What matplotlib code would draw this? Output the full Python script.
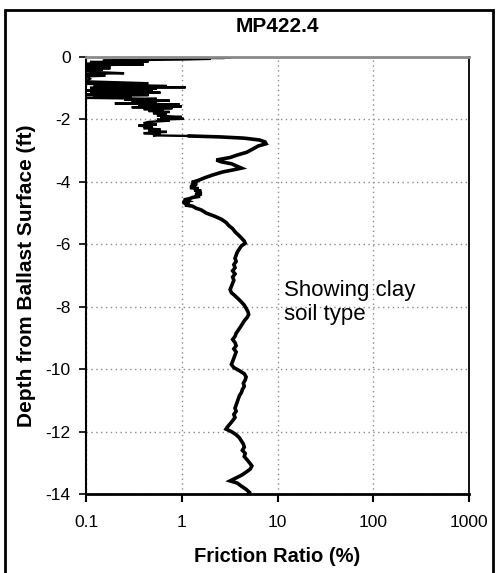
import matplotlib
matplotlib.use("Agg")
import matplotlib.pyplot as plt
from matplotlib.patches import Rectangle

plt.rcParams['font.family'] = ['Liberation Sans', 'DejaVu Sans']

title = "MP422.4"
xlabel = "Friction Ratio (%)"
ylabel = "Depth from Ballast Surface (ft)"
note = "Showing clay\nsoil type"

x_ticks = [0.1, 1, 10, 100, 1000]
x_ticklabels = ["0.1", "1", "10", "100", "1000"]
y_ticks = [0, -2, -4, -6, -8, -10, -12, -14]
y_ticklabels = ["0", "-2", "-4", "-6", "-8", "-10", "-12", "-14"]

depth = [0.00, 0.01, 0.02, 0.03, 0.04, 0.06, 0.08, 0.10, 0.12, 0.14, 0.16, 0.18, 0.20, 0.22,
         0.24, 0.26, 0.28, 0.30, 0.32, 0.34, 0.36, 0.38, 0.40, 0.44, 0.48, 0.52, 0.54, 0.60,
         0.62, 0.70, 0.78, 0.84, 0.86, 0.90, 0.93, 0.95, 0.97, 0.99, 1.02, 1.04, 1.06, 1.08,
         1.10, 1.12, 1.14, 1.16, 1.18, 1.20, 1.22, 1.25, 1.28, 1.31, 1.34, 1.37, 1.40, 1.43,
         1.46, 1.49, 1.52, 1.55, 1.58, 1.61, 1.64, 1.67, 1.70, 1.73, 1.76, 1.80, 1.84, 1.88,
         1.92, 1.95, 1.98, 2.01, 2.04, 2.08, 2.12, 2.16, 2.20, 2.24, 2.28, 2.32, 2.36, 2.40,
         2.44, 2.48, 2.51, 2.53, 2.56, 2.60, 2.66, 2.72, 2.78, 2.85, 2.95, 3.05, 3.14, 3.22,
         3.30, 3.36, 3.42, 3.50, 3.56, 3.62, 3.68, 3.78, 3.88, 3.95, 4.02, 4.06, 4.10, 4.14,
         4.18, 4.22, 4.26, 4.30, 4.34, 4.38, 4.42, 4.46, 4.50, 4.54, 4.58, 4.62, 4.66, 4.70,
         4.74, 4.78, 4.84, 4.90, 5.00, 5.10, 5.20, 5.30, 5.40, 5.50,
         5.60, 5.70, 5.80, 5.90, 5.97, 6.05, 6.15, 6.25, 6.35, 6.45, 6.55, 6.65, 6.75, 6.85,
         6.95, 7.05, 7.15, 7.25, 7.35, 7.45, 7.55, 7.65, 7.75, 7.85, 7.95, 8.05, 8.15, 8.25,
         8.35, 8.45, 8.55, 8.65, 8.75, 8.85, 8.95, 9.05, 9.15, 9.25, 9.35, 9.45, 9.55, 9.65,
         9.75, 9.85, 9.95, 10.05, 10.15, 10.25, 10.35, 10.45, 10.55, 10.65, 10.75, 10.85,
         10.95, 11.05, 11.15, 11.25, 11.35, 11.45, 11.55, 11.65, 11.75, 11.85, 11.92, 12.00,
         12.10, 12.20, 12.30, 12.40, 12.50, 12.60, 12.70, 12.80, 12.90, 13.00, 13.10, 13.20,
         13.30, 13.40, 13.50, 13.58, 13.65, 13.75, 13.85, 13.95, 14.00]

friction_ratio = [1.0, 3.3, 1.2, 2.8, 1.0, 2.0, 1.05, 0.30, 0.15, 0.45, 0.11, 0.25, 0.35, 0.10,
                  0.40, 0.12, 0.18, 0.10, 0.17, 0.10, 0.18, 0.10, 0.15, 0.10, 0.12, 0.25, 0.10, 0.16,
                  0.10, 0.11, 0.10, 0.45, 0.10, 0.30, 0.70, 0.12, 1.1, 0.11, 0.55, 0.20, 0.50, 0.10,
                  0.40, 0.18, 0.60, 0.11, 0.35, 0.10, 0.45, 0.12, 0.30, 0.10, 0.55, 0.25, 0.75, 0.30,
                  0.55, 0.20, 0.95, 0.35, 1.0, 0.30, 0.80, 0.40, 0.65, 0.45, 0.75, 0.50, 0.70, 0.55,
                  1.0, 0.60, 1.05, 0.55, 0.75, 0.45, 0.40, 0.55, 0.35, 0.50, 0.40, 0.60, 0.45, 0.70,
                  0.40, 0.60, 0.50, 1.2, 2.5, 4.5, 6.5, 7.4, 7.6, 6.3, 5.5, 4.8, 3.8, 3.2,
                  2.3, 2.6, 3.3, 3.8, 4.2, 3.4, 2.7, 2.1, 1.7, 1.5, 1.27, 1.45, 1.25, 1.4,
                  1.22, 1.5, 1.35, 1.6, 1.4, 1.62, 1.38, 1.55, 1.3, 1.2, 1.05, 1.15, 1.02, 1.2,
                  1.08, 1.3, 1.4, 1.6, 1.8, 2.2, 2.6, 2.9, 3.1, 3.4,
                  3.6, 3.9, 4.2, 4.5, 4.6, 4.2, 4.0, 3.8, 3.7, 3.6, 3.7, 3.5, 3.6, 3.4,
                  3.6, 3.4, 3.5, 3.4, 3.3, 3.2, 3.3, 3.6, 3.9, 4.2, 4.5, 4.7, 4.9, 5.0,
                  4.8, 4.5, 4.3, 4.1, 3.9, 3.7, 3.6, 3.4, 3.6, 3.7, 3.5, 3.7, 3.6, 3.5,
                  3.4, 3.3, 3.5, 4.0, 4.5, 4.7, 4.6, 4.4, 4.5, 4.3, 4.2, 4.0,
                  3.9, 3.8, 3.7, 3.6, 3.7, 3.5, 3.6, 3.4, 3.2, 3.0, 2.9, 3.3,
                  3.7, 4.0, 4.2, 4.4, 4.5, 4.3, 4.6, 4.5, 4.8, 5.1, 5.4, 5.2,
                  4.7, 4.2, 3.6, 3.2, 3.8, 4.2, 4.7, 5.1, 5.0]

W, H = 498, 573
fig = plt.figure(figsize=(W / 100, H / 100), dpi=100)
ax = fig.add_axes([86 / W, 1 - 494 / H, (469 - 86) / W, (494 - 57) / H])

neg_depth = [-d for d in depth]
# noisy near-surface part drawn thinner, smoother clay part drawn heavier
split = next(i for i, d in enumerate(depth) if d >= 2.53)
ax.plot(friction_ratio[:split + 1], neg_depth[:split + 1], color='black', lw=1.7,
        solid_joinstyle='miter')
ax.plot(friction_ratio[split:], neg_depth[split:], color='black', lw=2.6,
        solid_joinstyle='miter')

ax.set_xscale('log')
ax.set_xlim(0.1, 1000)
ax.set_ylim(-14, 0)
ax.set_xticks(x_ticks)
ax.set_xticklabels(x_ticklabels)
ax.set_yticks(y_ticks)
ax.set_yticklabels(y_ticklabels)
ax.minorticks_off()
ax.tick_params(axis='x', direction='out', length=6, width=1.5, pad=9, labelsize=12.5)
ax.tick_params(axis='y', direction='out', length=5, width=1.2, pad=6, labelsize=12.5)

ax.grid(True, which='major', color='#8a8a9a', linestyle=(0, (1, 2.5)), lw=1.0)
for s in ['left', 'bottom', 'right']:
    ax.spines[s].set_color('black')
ax.spines['left'].set_linewidth(1.5)
ax.spines['bottom'].set_linewidth(2.0)
ax.spines['right'].set_linewidth(1.3)
ax.spines['top'].set_color('#8a8a8a')
ax.spines['top'].set_linewidth(2.0)

ax.set_title(title, fontsize=15, fontweight='bold', pad=18)
ax.set_xlabel(xlabel, fontsize=14.5, fontweight='bold', labelpad=12)
ax.set_ylabel(ylabel, fontsize=15, fontweight='bold', labelpad=7)

ax.text(11.8, -7.15, note, fontsize=16, va='top', ha='left', linespacing=1.2)

fig.patches.append(Rectangle((5 / W, -0.05), (493 - 5) / W, 1.05 - 10 / H,
                             transform=fig.transFigure, fill=False, lw=2.0,
                             edgecolor='black'))

fig.savefig('out.png', dpi=100)
